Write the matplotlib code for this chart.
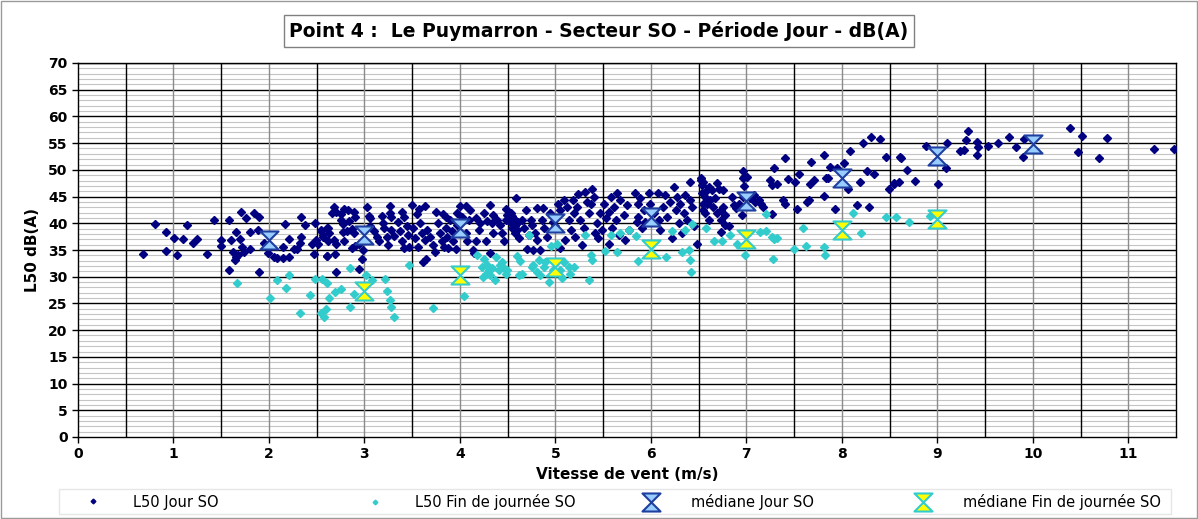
import matplotlib.pyplot as plt
import numpy as np
from matplotlib.path import Path
from matplotlib.patches import Rectangle

# L50 Jour SO : (vitesse m/s, dB(A))
jour_pts = [
    (0.685, 34.2), (0.81, 39.8), (0.92, 38.4), (0.92, 34.8), (1.01, 37.2), (1.04, 34.0),
    (1.10, 37.0), (1.14, 39.7), (1.20, 36.3), (1.25, 37.1), (1.35, 34.2), (1.42, 40.7),
    (1.50, 36.9), (1.50, 35.7), (1.58, 40.7), (1.58, 31.3), (1.60, 36.9), (1.66, 38.3),
    (1.71, 42.1), (1.70, 37.0), (1.62, 34.6), (1.64, 33.1), (1.66, 33.6), (1.68, 34.0),
    (1.72, 35.5), (1.74, 34.7), (1.76, 41.0), (1.80, 38.4), (1.80, 35.1), (1.84, 41.9),
    (1.89, 38.7), (1.90, 41.2), (1.90, 30.8), (1.95, 36.4), (1.99, 34.4), (2.05, 33.7),
    (2.08, 33.5), (2.15, 33.5), (2.15, 35.5), (2.17, 39.9), (2.21, 37.1), (2.21, 33.6),
    (2.26, 35.2), (2.29, 35.2), (2.34, 41.2), (2.33, 36.4), (2.34, 37.4), (2.38, 39.6),
    (2.45, 36.2), (2.47, 34.2), (2.48, 40.0), (2.49, 36.9), (2.51, 36.1), (2.54, 38.6),
    (2.57, 37.5), (2.61, 33.9), (2.62, 36.7), (2.62, 39.1),
    (2.68, 43.0), (2.70, 42.2), (2.66, 42.0), (2.79, 42.6), (2.83, 42.4), (2.89, 42.2),
    (2.90, 41.2), (2.75, 41.7), (2.75, 40.6), (2.78, 39.8), (2.84, 40.5), (3.03, 43.0),
    (3.05, 41.4), (3.06, 41.0), (3.18, 41.4), (3.27, 43.3), (3.27, 42.0), (3.28, 41.1),
    (3.39, 42.2), (3.41, 41.2), (3.50, 43.5), (3.55, 41.7), (3.57, 42.7), (3.63, 43.3),
    (3.75, 42.2), (3.82, 41.8), (3.85, 41.1), (4.00, 43.3), (4.06, 43.2), (4.11, 42.4),
    (4.17, 40.9), (4.25, 41.9), (4.32, 43.5), (4.35, 41.5), (4.48, 42.6), (4.51, 41.9),
    (4.55, 41.4), (4.59, 44.7),
    (2.54, 38.7), (2.57, 37.8), (2.61, 39.1), (2.63, 38.1), (2.68, 36.9), (2.70, 36.2),
    (2.61, 33.9), (2.69, 34.2), (2.70, 30.9), (2.78, 38.3), (2.79, 36.7), (2.82, 38.6),
    (2.87, 39.0), (2.89, 38.1), (2.87, 35.3), (2.90, 35.7), (2.94, 36.1), (2.97, 33.4),
    (2.98, 35.0), (2.94, 31.5), (3.06, 39.4), (3.10, 38.5), (3.13, 37.5), (3.15, 36.6),
    (3.19, 40.0), (3.20, 39.1), (3.24, 37.5), (3.25, 35.9), (3.28, 38.7), (3.31, 37.7),
    (3.35, 40.2), (3.37, 38.5), (3.39, 36.6), (3.41, 35.3), (3.45, 39.4), (3.46, 37.8),
    (3.47, 35.6), (3.51, 39.1), (3.53, 37.2), (3.56, 35.5), (3.58, 40.0), (3.60, 38.1),
    (3.63, 36.9), (3.64, 33.4), (3.61, 32.8), (3.66, 38.7), (3.69, 37.5), (3.72, 35.9),
    (3.74, 34.7), (3.77, 40.0), (3.79, 38.1), (3.81, 36.6), (3.83, 35.6), (3.85, 39.2),
    (3.86, 37.5), (3.88, 35.3), (3.90, 40.6), (3.92, 38.5), (3.93, 36.7), (3.96, 35.1),
    (3.97, 39.7), (3.97, 42.0), (4.02, 41.2), (4.06, 38.1), (4.07, 36.6), (4.09, 40.6),
    (4.14, 35.0), (4.15, 34.4), (4.17, 36.7), (4.20, 38.7), (4.21, 40.0), (4.27, 36.7),
    (4.28, 40.5), (4.31, 34.4), (4.34, 40.0), (4.35, 38.1), (4.39, 40.6), (4.42, 39.7),
    (4.44, 38.1), (4.46, 36.7), (4.48, 40.6), (4.49, 41.5), (4.53, 40.0), (4.56, 40.9),
    (4.58, 39.4), (4.60, 38.7), (4.61, 40.3),
    (4.69, 42.5), (4.81, 42.8), (4.87, 42.8), (4.53, 41.9), (4.56, 40.9), (4.60, 40.0),
    (4.55, 39.1), (4.58, 38.1), (4.62, 37.2), (4.65, 40.6), (4.67, 39.1), (4.70, 35.1),
    (4.72, 37.8), (4.74, 40.6), (4.76, 39.7), (4.77, 35.0), (4.79, 38.1), (4.81, 36.9),
    (4.84, 35.0), (4.86, 40.6), (4.88, 39.1), (4.91, 37.5), (4.94, 41.9), (4.97, 40.3),
    (5.00, 39.4), (5.03, 43.7), (5.05, 42.5), (5.05, 35.3), (5.09, 44.4), (5.10, 36.9),
    (5.12, 43.1), (5.14, 40.6), (5.16, 38.7), (5.18, 44.4), (5.19, 41.9), (5.21, 37.5),
    (5.23, 43.1), (5.24, 45.5), (5.26, 40.6), (5.28, 35.9), (5.30, 39.1), (5.31, 45.9),
    (5.33, 44.0), (5.35, 41.9), (5.37, 43.7), (5.38, 46.5), (5.40, 45.0), (5.42, 38.1),
    (5.44, 40.0), (5.45, 37.2), (5.47, 41.9), (5.49, 38.7), (5.51, 43.7), (5.53, 40.9),
    (5.56, 42.2), (5.56, 36.2), (5.58, 45.0), (5.59, 39.1), (5.61, 43.1), (5.63, 40.6),
    (5.65, 45.6), (5.67, 37.8), (5.68, 44.4), (5.72, 41.5), (5.73, 36.9), (5.75, 43.4),
    (5.77, 38.7), (5.83, 45.6), (5.85, 40.3), (5.86, 43.7), (5.87, 41.2), (5.89, 44.7),
    (5.91, 39.1), (5.93, 42.5), (5.94, 40.3), (5.98, 45.6), (5.99, 43.7), (6.03, 41.9),
    (6.07, 45.6), (6.08, 40.6), (6.10, 38.7), (6.13, 43.1), (6.15, 45.3), (6.17, 41.2),
    (6.20, 44.0), (6.22, 37.2), (6.24, 46.8), (6.26, 42.5), (6.27, 45.0), (6.29, 40.0),
    (6.31, 43.7), (6.33, 38.1), (6.35, 41.9), (6.36, 45.3), (6.38, 40.6), (6.41, 47.8),
    (6.41, 44.4), (6.43, 43.1), (6.45, 39.4), (6.48, 36.2), (6.52, 48.1), (6.54, 47.2),
    (6.55, 43.7), (6.57, 41.9), (6.59, 46.2), (6.61, 40.6),
    (6.52, 48.4), (6.55, 47.8), (6.61, 46.8), (6.54, 45.6), (6.57, 45.0), (6.64, 46.2),
    (6.69, 47.5), (6.71, 46.5), (6.76, 46.2), (6.59, 43.7), (6.62, 44.4), (6.65, 43.1),
    (6.67, 44.7), (6.69, 41.9), (6.55, 42.5), (6.73, 42.5), (6.76, 43.1), (6.78, 41.5),
    (6.73, 40.6), (6.78, 39.7), (6.82, 39.4), (6.73, 38.3), (6.85, 45.0), (6.87, 43.4),
    (6.89, 42.8), (6.92, 43.7), (6.95, 41.5), (6.97, 49.7), (6.98, 48.7), (6.97, 48.4),
    (7.01, 48.7), (6.98, 47.0), (6.97, 45.0), (7.04, 44.7), (7.08, 45.3), (7.09, 44.0),
    (7.13, 44.4), (7.15, 43.7), (7.17, 43.1), (7.27, 41.7), (7.25, 48.1), (7.27, 47.2),
    (7.29, 50.3), (7.32, 47.4), (7.38, 44.4), (7.40, 43.7), (7.40, 52.3), (7.44, 48.2),
    (7.51, 47.8), (7.53, 42.6), (7.55, 49.2), (7.64, 44.0), (7.66, 44.4), (7.67, 47.4),
    (7.68, 51.5), (7.71, 48.1), (7.81, 52.7), (7.81, 45.1), (7.83, 48.4), (7.85, 48.4),
    (7.88, 50.5), (7.93, 42.7), (7.95, 50.4), (8.02, 51.3), (8.06, 46.5), (8.09, 53.6),
    (8.16, 43.4), (8.19, 47.8), (8.22, 55.0), (8.26, 49.8), (8.28, 43.1), (8.31, 56.2),
    (8.34, 49.3), (8.40, 55.7), (8.46, 52.5), (8.49, 46.5), (8.55, 47.5), (8.60, 47.8),
    (8.61, 52.5),
    (8.55, 47.3), (8.62, 52.3), (8.68, 50.0), (8.77, 47.9), (8.88, 54.5), (9.01, 47.3),
    (9.09, 50.4), (9.10, 55.1), (9.24, 53.5), (9.28, 53.7), (9.30, 55.5), (9.32, 57.2),
    (9.42, 55.2), (9.43, 54.2), (9.42, 52.7), (9.53, 54.5), (9.64, 55.1), (9.75, 56.1),
    (9.82, 54.2), (9.90, 52.5), (9.91, 55.8), (10.39, 57.9), (10.52, 56.4), (10.47, 53.4),
    (10.69, 52.3), (10.78, 56.0), (11.27, 53.9), (11.48, 53.9),
]

# L50 Fin de journée SO
fin_pts = [
    (1.67, 28.8), (2.08, 29.3), (2.21, 30.4), (2.18, 27.8), (2.01, 26.1), (2.43, 26.5),
    (2.33, 23.3), (2.48, 29.6), (2.56, 29.5), (2.61, 28.9), (2.63, 26.1), (2.60, 24.0),
    (2.54, 23.2), (2.58, 22.5),
    (2.69, 27.2), (2.75, 27.7), (2.85, 31.7), (2.89, 26.7), (3.02, 30.3), (3.08, 29.4),
    (3.22, 29.5), (3.24, 27.4), (3.27, 25.6), (3.28, 24.4), (3.31, 22.5), (2.85, 24.3),
    (3.47, 32.1), (3.72, 24.2), (4.04, 26.4), (4.18, 34.1), (4.25, 33.3), (4.23, 31.9),
    (4.28, 32.2), (4.30, 31.3), (4.27, 30.6), (4.34, 31.6), (4.32, 30.3), (4.37, 29.4),
    (4.38, 33.6), (4.41, 31.3), (4.42, 32.2), (4.44, 32.8), (4.46, 31.6), (4.48, 30.6),
    (4.49, 31.3), (4.60, 33.9), (4.62, 30.3), (4.24, 30.0),
    (4.63, 33.0), (4.65, 30.6), (4.72, 37.8), (4.76, 31.9), (4.77, 32.2), (4.83, 33.1),
    (4.81, 30.9), (4.84, 30.3), (4.88, 31.9), (4.89, 32.8), (4.93, 29.1), (4.95, 35.7),
    (4.97, 31.3), (5.02, 36.2), (5.05, 31.3), (5.07, 29.7), (5.09, 32.8), (5.14, 31.9),
    (5.15, 30.6), (5.20, 31.8), (5.31, 37.8), (5.35, 29.3), (5.37, 34.1), (5.38, 33.1),
    (5.52, 34.8), (5.58, 37.8), (5.65, 34.7), (5.68, 38.1), (5.77, 38.7), (5.84, 37.6),
    (5.86, 33.0), (6.16, 33.6), (6.22, 38.5), (6.33, 34.7), (6.36, 38.7), (6.40, 35.0),
    (6.41, 33.1), (6.43, 39.8), (6.42, 30.9), (6.58, 39.2),
    (6.66, 36.7), (6.75, 36.7), (6.83, 37.8), (6.90, 36.2), (6.99, 34.1), (7.14, 38.3),
    (7.21, 38.5), (7.21, 41.7), (7.27, 37.5), (7.29, 37.0), (7.32, 37.2), (7.28, 33.3),
    (7.50, 35.1), (7.59, 39.2), (7.62, 35.7), (7.81, 35.5), (7.82, 34.0), (8.12, 41.9),
    (8.20, 38.2), (8.46, 41.1), (8.57, 41.2), (8.70, 40.3), (8.92, 41.4),
]

med_jour_x = [2, 3, 4, 5, 6, 7, 8, 9, 10]
med_jour_y = [36.8, 37.9, 39.2, 40.0, 41.2, 44.2, 48.4, 52.6, 54.8]
med_fin_x = [3, 4, 5, 6, 7, 8, 9]
med_fin_y = [27.4, 30.4, 31.9, 35.2, 37.1, 38.7, 40.8]

x_ticks = list(range(0, 12))
y_ticks = list(range(0, 75, 5))

W, H = 1198, 519
hourglass = Path([(-1, 1), (1, 1), (-1, -1), (1, -1), (-1, 1)],
                 [Path.MOVETO, Path.LINETO, Path.LINETO, Path.LINETO, Path.CLOSEPOLY])

fig = plt.figure(figsize=(W / 100, H / 100), dpi=100)
fig.patches.append(Rectangle((0.001, 0.002), 0.998, 0.996, transform=fig.transFigure,
                             fill=False, edgecolor='#9a9a9a', lw=1))
ax = fig.add_axes([78 / W, 1 - 437 / H, (1176 - 78) / W, (437 - 63) / H])

# grille : fines tous les 1 dB, noires tous les 5 dB
for v in range(71):
    if v % 5 != 0:
        ax.axhline(v, color='#c4c4c4', lw=0.8, zorder=0)
for v in y_ticks[1:]:
    ax.axhline(v, color='black', lw=1.0, zorder=0.5)
for v in np.arange(1, 12):
    ax.axvline(v, color='#8a8a8a', lw=1.0, zorder=0.5)
for v in np.arange(0.5, 11.5, 1.0):
    ax.axvline(v, color='black', lw=1.0, zorder=0.5)

jx, jy = zip(*jour_pts)
fx, fy = zip(*fin_pts)
h1, = ax.plot(jx, jy, ls='none', marker='D', ms=4.0, color='#000080', zorder=3)
h2, = ax.plot(fx, fy, ls='none', marker='D', ms=4.0, color='#33CCCC', zorder=3)
h3, = ax.plot(med_jour_x, med_jour_y, ls='none', marker=hourglass, ms=13, mfc='#99CCFF',
              mec='#1F3FA0', mew=1.5, zorder=4)
h4, = ax.plot(med_fin_x, med_fin_y, ls='none', marker=hourglass, ms=13, mfc='#FFFF00',
              mec='#33CCCC', mew=1.5, zorder=4)

ax.set_xlim(0, 11.5)
ax.set_ylim(0, 70)
ax.set_xticks(x_ticks)
ax.set_yticks(y_ticks)
ax.tick_params(labelsize=10, length=4, width=1)
for lab in ax.get_xticklabels() + ax.get_yticklabels():
    lab.set_fontweight('bold')
for s in ax.spines.values():
    s.set_linewidth(1)
ax.set_xlabel('Vitesse de vent (m/s)', fontsize=11, fontweight='bold', labelpad=4)
ax.set_ylabel('L50 dB(A)', fontsize=11, fontweight='bold', labelpad=6)

fig.text(0.5, 1 - 31 / H, 'Point 4 :  Le Puymarron - Secteur SO - Période Jour - dB(A)',
         ha='center', va='center', fontsize=13.5, fontweight='bold',
         bbox=dict(boxstyle='square,pad=0.3', fc='white', ec='#808080', lw=1))

# légende : cadre + 4 entrées placées comme dans l'original
fig.patches.append(Rectangle((59 / W, 1 - 514 / H), (1171 - 59) / W, 25 / H,
                             transform=fig.transFigure, fill=False,
                             edgecolor='#e6e6e6', lw=1))
entries = [(h1, 'L50 Jour SO', 92, 0.6), (h2, 'L50 Fin de journée SO', 374, 0.6),
           (h3, 'médiane Jour SO', 650, 1.0), (h4, 'médiane Fin de journée SO', 922, 1.0)]
for h, lab, xm, sc in entries:
    fig.legend([h], [lab], loc='center left', bbox_to_anchor=((xm - 14) / W, 1 - 502 / H),
               frameon=False, borderpad=0, borderaxespad=0, handlelength=2,
               handletextpad=1.75, fontsize=10.5, markerscale=sc)

fig.savefig('out.png', dpi=100)
